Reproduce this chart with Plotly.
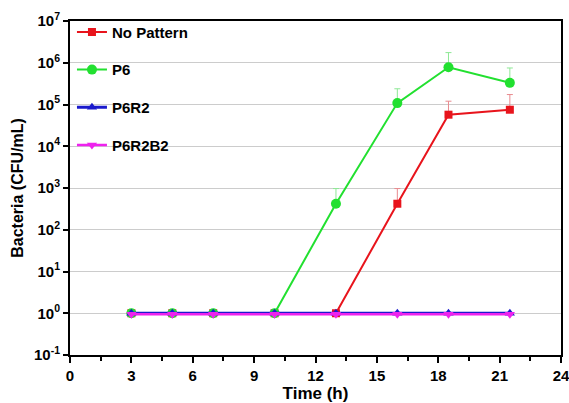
import plotly.graph_objects as go

# Sampling times (h)
time_h = [3, 5, 7, 10, 13, 16, 18.5, 21.5]

# Bacterial counts (CFU/mL) per surface
no_pattern = [1, 1, 1, 1, 1, 420, 5.7e4, 7.5e4]
p6 = [1, 1, 1, 1, 420, 1.08e5, 7.8e5, 3.3e5]
p6r2 = [1, 1, 1, 1, 1, 1, 1, 1]
p6r2b2 = [0.95, 0.95, 0.95, 0.95, 0.95, 0.95, 0.95, 0.95]

# Upper error (CFU/mL above the mean)
no_pattern_err = [None, None, None, None, None, 550, 6.3e4, 9.8e4]
p6_err = [None, None, None, None, 550, 1.3e5, 9.7e5, 4.2e5]

# Axis ticks
x_ticks = [0, 3, 6, 9, 12, 15, 18, 21, 24]
y_exponents = [-1, 0, 1, 2, 3, 4, 5, 6, 7]

FONT = "Liberation Sans, Arial, sans-serif"

fig = go.Figure()


def add_series(name, y, color, symbol, size, width, err=None, err_color=None):
    kw = {}
    if err is not None:
        kw["error_y"] = dict(
            type="data", symmetric=False, array=err,
            arrayminus=[0 if e is not None else None for e in err],
            color=err_color, thickness=1, width=3,
        )
    fig.add_trace(go.Scatter(
        x=time_h, y=y, name=name, mode="lines+markers",
        line=dict(color=color, width=width),
        marker=dict(color=color, symbol=symbol, size=size),
        legendgroup=name, **kw,
    ))


add_series("No Pattern", no_pattern, "#e8141c", "square", 8, 2,
           no_pattern_err, "#e88a8e")
add_series("P6", p6, "#22e030", "circle", 10, 2, p6_err, "#8ee896")
add_series("P6R2", p6r2, "#1a1acc", "triangle-up", 9, 3)
add_series("P6R2B2", p6r2b2, "#ee22ee", "triangle-down", 9, 2.5)

fig.update_layout(
    width=569, height=403,
    margin=dict(l=70, r=8, t=21, b=48),
    paper_bgcolor="white", plot_bgcolor="white",
    font=dict(family=FONT, size=14, color="black", weight="bold"),
    showlegend=True,
    legend=dict(
        x=0.004, y=1.016, xanchor="left", yanchor="top",
        bgcolor="rgba(0,0,0,0)", borderwidth=0,
        tracegroupgap=15.2,
        font=dict(family=FONT, size=15, color="black", weight="bold"),
    ),
    xaxis=dict(
        range=[0, 24], tickvals=x_ticks, automargin=False,
        ticklabeloverflow="allow",
        ticks="outside", ticklen=6, tickwidth=2, tickcolor="black",
        minor=dict(dtick=1.5, ticks="outside", ticklen=4, tickwidth=2,
                   tickcolor="black", showgrid=False),
        showline=True, linewidth=2, linecolor="black", mirror=True,
        showgrid=False, zeroline=False,
        tickfont=dict(family=FONT, size=15, weight="bold"),
        title=dict(text="Time (h)", standoff=6,
                   font=dict(family=FONT, size=17, weight="bold")),
    ),
    yaxis=dict(
        type="log", range=[-1, 7], automargin=False,
        ticklabeloverflow="allow",
        tickvals=[10 ** e for e in y_exponents],
        ticktext=[f"10<sup>{e}</sup>" for e in y_exponents],
        ticks="outside", ticklen=5, tickwidth=2, tickcolor="black",
        showline=True, linewidth=2, linecolor="black", mirror=True,
        showgrid=True, gridcolor="#cccccc", gridwidth=1, zeroline=False,
        tickfont=dict(family=FONT, size=15, weight="bold"),
        title=dict(text="Bacteria (CFU/mL)", standoff=6,
                   font=dict(family=FONT, size=16, weight="bold")),
    ),
)

fig.write_html("out.html")
